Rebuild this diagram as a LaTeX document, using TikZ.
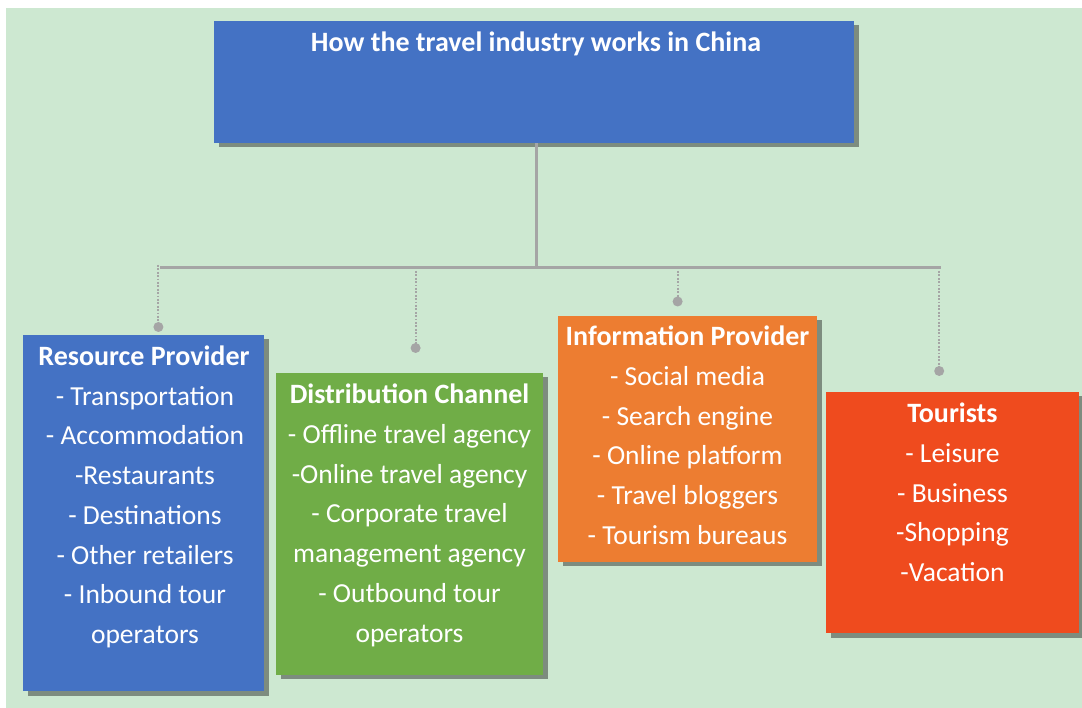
\documentclass[tikz,border=0pt]{standalone}
\usepackage{fontspec}
\setmainfont{Carlito}
\begin{document}
\definecolor{bgc}{HTML}{CDE8D1}
\definecolor{boxblue}{HTML}{4472C4}
\definecolor{boxgreen}{HTML}{70AD47}
\definecolor{boxorange}{HTML}{ED7D31}
\definecolor{boxred}{HTML}{EF4B1E}
\definecolor{shade}{HTML}{7D8C7F}
\definecolor{linkgray}{HTML}{A5A5A5}
\begin{tikzpicture}[x=1pt,y=-1pt,
  panel/.style={fill=#1, draw=none, anchor=north west, inner sep=0pt, outer sep=0pt},
  shadowbox/.style={fill=shade},
  headtxt/.style={text=white, font=\fontsize{28}{30}\selectfont\bfseries, anchor=base, inner sep=0pt, text height=18pt, text depth=6pt},
  itemtxt/.style={text=white, font=\fontsize{27.5}{30}\selectfont, anchor=base, inner sep=0pt, text height=18pt, text depth=6pt},
  trunk/.style={draw=linkgray, line width=3pt},
  branch/.style={draw=linkgray, line width=2pt, dash pattern=on 1.8pt off 1.6pt},
  dot/.style={circle, fill=linkgray, minimum size=10pt, inner sep=0pt}
]
% canvas
\useasboundingbox (0,0) rectangle (1082,708);
\fill[white] (0,0) rectangle (1082,708);
\fill[bgc] (6,8) rectangle (1082,708);

% drop shadows
\fill[shadowbox] (218.5,25) rectangle (859,147);
\fill[shadowbox] (27.5,339) rectangle (268.5,696);
\fill[shadowbox] (281,377.5) rectangle (548,679);
\fill[shadowbox] (563,320) rectangle (821.5,566);
\fill[shadowbox] (830.5,396.5) rectangle (1082,637.5);

% panels
\node[panel=boxblue, minimum width=640.5pt, minimum height=122pt] (title) at (213.5,21) {};
\node[panel=boxblue, minimum width=241pt, minimum height=356pt] (rp) at (22.5,335) {};
\node[panel=boxgreen, minimum width=267pt, minimum height=301.5pt] (dc) at (276,373.5) {};
\node[panel=boxorange, minimum width=258.5pt, minimum height=246pt] (ip) at (558,316) {};
\node[panel=boxred, minimum width=253.5pt, minimum height=240.5pt] (to) at (825.5,392.5) {};

% connectors
\coordinate (hub) at (536.5,268);
\coordinate (barL) at (160,268);
\coordinate (barR) at (941,268);
\draw[trunk] (title.south -| hub) -- (hub);
\draw[trunk] (barL) -- (barR);

\node[dot] (rpd) at (158.4,327) {};
\node[dot] (dcd) at (415.6,348) {};
\node[dot] (ipd) at (677.6,301.5) {};
\node[dot] (tod) at (939.2,371) {};
\draw[branch] (rpd.center |- 0,265) -- (rpd.center);
\draw[branch] (dcd.center |- 0,271) -- (dcd.center);
\draw[branch] (ipd.center |- 0,271) -- (ipd.center);
\draw[branch] (tod.center |- 0,271) -- (tod.center);

% title
\node[headtxt] (titletxt) at (536,52) {How the travel industry works in China};

% Resource Provider
\node[headtxt] (rp0) at (144,365.5) {Resource Provider};
\foreach \t [count=\i] in {- Transportation, - Accommodation, -Restaurants, - Destinations, - Other retailers, - Inbound tour, operators}
  \node[itemtxt] (rp\i) at (145,365.5+39.7*\i) {\t};

% Distribution Channel
\node[headtxt] (dc0) at (409.5,403.5) {Distribution Channel};
\foreach \t [count=\i] in {- Offline travel agency, -Online travel agency, - Corporate travel, management agency, - Outbound tour, operators}
  \node[itemtxt] (dc\i) at (409.5,403.5+39.8*\i) {\t};

% Information Provider
\node[headtxt] (ip0) at (687.5,345.5) {Information Provider};
\foreach \t [count=\i] in {- Social media, - Search engine, - Online platform, - Travel bloggers, - Tourism bureaus}
  \node[itemtxt] (ip\i) at (687.5,345.5+39.8*\i) {\t};

% Tourists
\node[headtxt] (to0) at (952.5,422.5) {Tourists};
\foreach \t [count=\i] in {- Leisure, - Business, -Shopping, -Vacation}
  \node[itemtxt] (to\i) at (952.5,422.5+39.8*\i) {\t};
\end{tikzpicture}
\end{document}
